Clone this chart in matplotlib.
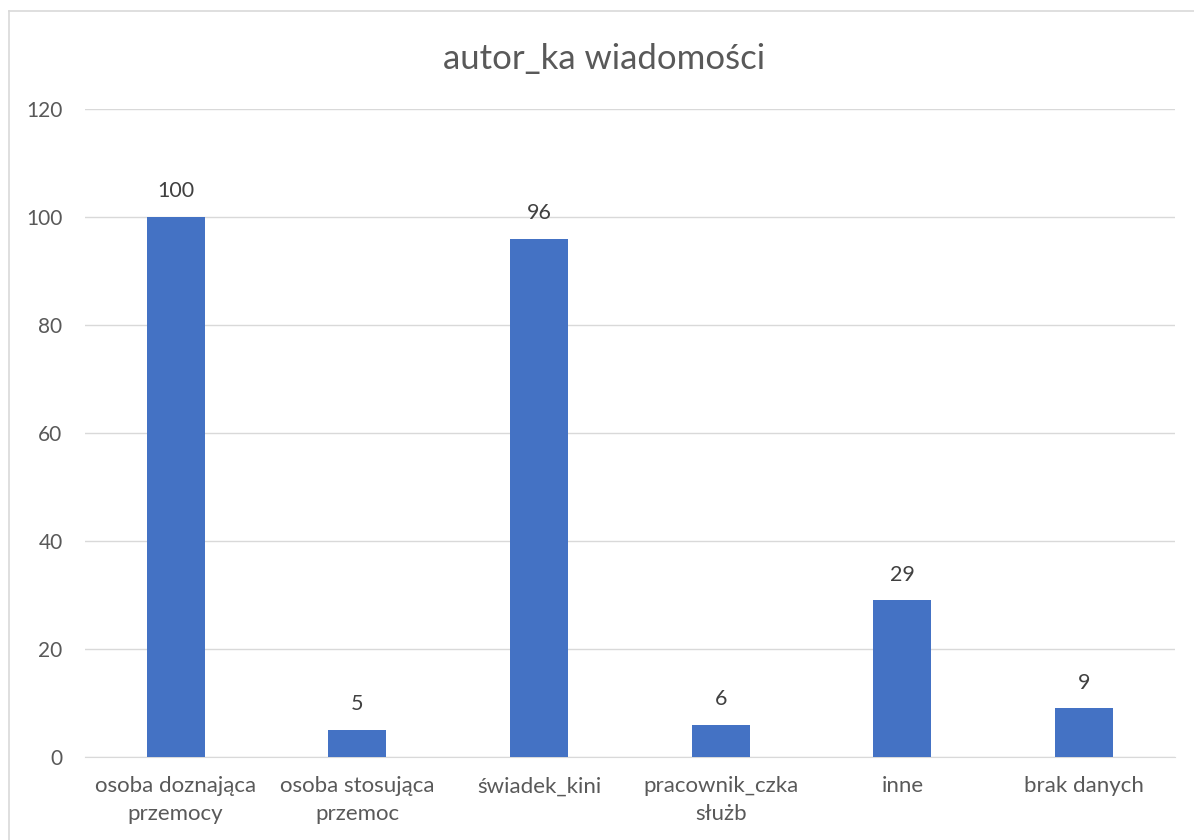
import matplotlib.pyplot as plt
from matplotlib.lines import Line2D

plt.rcParams["font.family"] = ["Lato", "DejaVu Sans"]

categories = ["osoba doznająca\nprzemocy", "osoba stosująca\nprzemoc", "świadek_kini",
              "pracownik_czka\nsłużb", "inne", "brak danych"]
values = [100, 5, 96, 6, 29, 9]
yticks = [0, 20, 40, 60, 80, 100, 120]

txt = "#595959"
fig = plt.figure(figsize=(11.94, 8.4), dpi=100)
ax = fig.add_axes([0.071, 0.0988, 0.913, 0.7714])

x = range(len(categories))
ax.bar(x, values, width=0.32, color="#4472C4", zorder=3)
for xi, v in zip(x, values):
    ax.text(xi, v + 2.9, str(v), ha="center", va="bottom", fontsize=15.5, color="#404040")

ax.set_xlim(-0.5, len(categories) - 0.5)
ax.set_ylim(0, 120)
ax.set_yticks(yticks)
ax.set_xticks(list(x))
ax.set_xticklabels(categories, fontsize=16, color=txt, linespacing=1.45)
ax.tick_params(axis="y", labelsize=15, labelcolor=txt, length=0, pad=16)
ax.tick_params(axis="x", length=0, pad=14)
ax.grid(axis="y", color="#D9D9D9", linewidth=1, zorder=0)
for s in ["top", "right", "left"]:
    ax.spines[s].set_visible(False)
ax.spines["bottom"].set_color("#D9D9D9")

fig.text(0.506, 0.93, "autor_ka wiadomości", ha="center", va="center", fontsize=25, color=txt)
# chart frame (only left and top edges are visible in the crop)
fig.add_artist(Line2D([8.5 / 1194, 8.5 / 1194], [0, 1 - 10.5 / 840], transform=fig.transFigure,
                      color="#D9D9D9", linewidth=1.2))
fig.add_artist(Line2D([8.5 / 1194, 1], [1 - 10.5 / 840, 1 - 10.5 / 840], transform=fig.transFigure,
                      color="#D9D9D9", linewidth=1.2))

fig.savefig("out.png", dpi=100, facecolor="white")
